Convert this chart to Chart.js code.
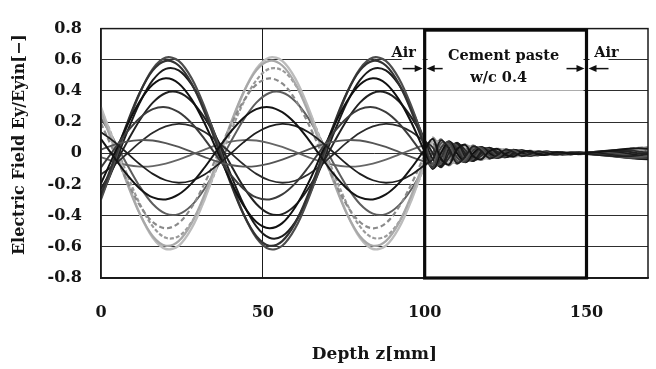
<!DOCTYPE html>
<html>
<head>
<meta charset="utf-8">
<script src="https://cdn.jsdelivr.net/npm/chart.js@4.4.1/dist/chart.umd.min.js"></script>
<style>
  html, body { margin: 0; padding: 0; background: #fff; }
  canvas { display: block; }
</style>
</head>
<body>
<canvas id="chart" width="656" height="369"></canvas>
<script>
// depth z [mm]: air 0-100, cement paste 100-150, air again after 150
const depth = [0, 4, 8, 12, 16, 20, 24, 28, 32, 36, 40, 44, 48, 52, 56, 60, 64, 68, 72, 76, 80, 84, 88, 92, 96, 100,
  102.5, 105, 107.5, 110, 112.5, 115, 117.5, 120, 122.5, 125, 127.5, 130, 132.5, 135, 137.5, 140, 142.5, 145, 147.5, 150,
  154, 158, 162, 166, 170];

// Ey/Eyin snapshots (one array per time step)
const eyT0 = [.091, -.024, -.136, -.227, -.283, -.296, -.264, -.193, -.091, .024, .136, .227, .283, .296, .264, .193, .091, -.024, -.136, -.227, -.283, -.296, -.264, -.193, -.091, .024,
  .092, -.034, -.072, .026, .054, -.019, -.038, .013, .028, -.010, -.020, .007, .015, -.005, -.010, .003, .006, -.002, -.005, .002,
  .008, .018, .028, .032, .028];
const eyT1 = [.193, .009, -.176, -.334, -.441, -.481, -.448, -.346, -.193, -.009, .176, .334, .441, .481, .448, .346, .193, .009, -.176, -.334, -.441, -.481, -.448, -.346, -.193, -.009,
  .100, 0, -.078, 0, .058, 0, -.041, 0, .030, 0, -.022, 0, .016, 0, -.011, 0, .007, 0, -.005, 0,
  .005, .014, .026, .035, .037];
const eyT2 = [.264, .041, -.189, -.390, -.532, -.593, -.563, -.448, -.264, -.041, .189, .390, .532, .593, .563, .448, .264, .041, -.189, -.390, -.532, -.593, -.563, -.448, -.264, -.041,
  .092, .034, -.072, -.026, .054, .019, -.038, -.013, .028, .010, -.020, -.007, .015, .005, -.010, -.003, .006, .002, -.005, -.002,
  0, .008, .020, .032, .040];
const eyT3 = [.296, .066, -.173, -.387, -.542, -.614, -.593, -.481, -.296, -.066, .173, .387, .542, .614, .593, .481, .296, .066, -.173, -.387, -.542, -.614, -.593, -.481, -.296, -.066,
  .071, .064, -.055, -.048, .041, .035, -.029, -.025, .021, .018, -.016, -.013, .011, .009, -.008, -.006, .005, .004, -.004, -.003,
  -.005, 0, .011, .025, .037];
const eyT4 = [.283, .082, -.132, -.325, -.469, -.542, -.532, -.441, -.283, -.082, .132, .325, .469, .542, .532, .441, .283, .082, -.132, -.325, -.469, -.542, -.532, -.441, -.283, -.082,
  .038, .083, -.030, -.063, .022, .046, -.016, -.032, .011, .024, -.008, -.018, .006, .012, -.004, -.008, .003, .006, -.002, -.004,
  -.008, -.008, 0, .013, .028];
const eyT5 = [.227, .085, -.070, -.214, -.325, -.387, -.390, -.334, -.227, -.085, .070, .214, .325, .387, .390, .334, .227, .085, -.070, -.214, -.325, -.387, -.390, -.334, -.227, -.085,
  0, .090, 0, -.068, 0, .050, 0, -.035, 0, .026, 0, -.019, 0, .013, 0, -.009, 0, .006, 0, -.004,
  -.011, -.014, -.011, 0, .015];
const eyT6 = [.136, .075, .003, -.070, -.132, -.173, -.189, -.176, -.136, -.075, -.003, .070, .132, .173, .189, .176, .136, .075, .003, -.070, -.132, -.173, -.189, -.176, -.136, -.075,
  -.038, .083, .030, -.063, -.022, .046, .016, -.032, -.011, .024, .008, -.018, -.006, .012, .004, -.008, -.003, .006, .002, -.004,
  -.012, -.018, -.020, -.013, 0];
const eyT7 = [.024, .054, .075, .085, .082, .066, .041, .009, -.024, -.054, -.075, -.085, -.082, -.066, -.041, -.009, .024, .054, .075, .085, .082, .066, .041, .009, -.024, -.054,
  -.071, .064, .055, -.048, -.041, .035, .029, -.025, -.021, .018, .016, -.013, -.011, .009, .008, -.006, -.005, .004, .004, -.003,
  -.011, -.020, -.026, -.025, -.015];
const eyT8 = [-.091, .024, .136, .227, .283, .296, .264, .193, .091, -.024, -.136, -.227, -.283, -.296, -.264, -.193, -.091, .024, .136, .227, .283, .296, .264, .193, .091, -.024,
  -.092, .034, .072, -.026, -.054, .019, .038, -.013, -.028, .010, .020, -.007, -.015, .005, .010, -.003, -.006, .002, .005, -.002,
  -.008, -.018, -.028, -.032, -.028];
const eyT9 = [-.193, -.009, .176, .334, .441, .481, .448, .346, .193, .009, -.176, -.334, -.441, -.481, -.448, -.346, -.193, -.009, .176, .334, .441, .481, .448, .346, .193, .009,
  -.100, 0, .078, 0, -.058, 0, .041, 0, -.030, 0, .022, 0, -.016, 0, .011, 0, -.007, 0, .005, 0,
  -.005, -.014, -.026, -.035, -.037];
const eyT10 = [-.264, -.041, .189, .390, .532, .593, .563, .448, .264, .041, -.189, -.390, -.532, -.593, -.563, -.448, -.264, -.041, .189, .390, .532, .593, .563, .448, .264, .041,
  -.092, -.034, .072, .026, -.054, -.019, .038, .013, -.028, -.010, .020, .007, -.015, -.005, .010, .003, -.006, -.002, .005, .002,
  0, -.008, -.020, -.032, -.040];
const eyT11 = [-.296, -.066, .173, .387, .542, .614, .593, .481, .296, .066, -.173, -.387, -.542, -.614, -.593, -.481, -.296, -.066, .173, .387, .542, .614, .593, .481, .296, .066,
  -.071, -.064, .055, .048, -.041, -.035, .029, .025, -.021, -.018, .016, .013, -.011, -.009, .008, .006, -.005, -.004, .004, .003,
  .005, 0, -.011, -.025, -.037];
const eyT12 = [-.283, -.082, .132, .325, .469, .542, .532, .441, .283, .082, -.132, -.325, -.469, -.542, -.532, -.441, -.283, -.082, .132, .325, .469, .542, .532, .441, .283, .082,
  -.038, -.083, .030, .063, -.022, -.046, .016, .032, -.011, -.024, .008, .018, -.006, -.012, .004, .008, -.003, -.006, .002, .004,
  .008, .008, 0, -.013, -.028];
const eyT13 = [-.227, -.085, .070, .214, .325, .387, .390, .334, .227, .085, -.070, -.214, -.325, -.387, -.390, -.334, -.227, -.085, .070, .214, .325, .387, .390, .334, .227, .085,
  0, -.090, 0, .068, 0, -.050, 0, .035, 0, -.026, 0, .019, 0, -.013, 0, .009, 0, -.006, 0, .004,
  .011, .014, .011, 0, -.015];
const eyT14 = [-.136, -.075, -.003, .070, .132, .173, .189, .176, .136, .075, .003, -.070, -.132, -.173, -.189, -.176, -.136, -.075, -.003, .070, .132, .173, .189, .176, .136, .075,
  .038, -.083, -.030, .063, .022, -.046, -.016, .032, .011, -.024, -.008, .018, .006, -.012, -.004, .008, .003, -.006, -.002, .004,
  .012, .018, .020, .013, 0];
const eyT15 = [-.024, -.054, -.075, -.085, -.082, -.066, -.041, -.009, .024, .054, .075, .085, .082, .066, .041, .009, -.024, -.054, -.075, -.085, -.082, -.066, -.041, -.009, .024, .054,
  .071, -.064, -.055, .048, .041, -.035, -.029, .025, .021, -.018, -.016, .013, .011, -.009, -.008, .006, .005, -.004, -.004, .003,
  .011, .020, .026, .025, .015];

const snapshots = [eyT0, eyT1, eyT2, eyT3, eyT4, eyT5, eyT6, eyT7, eyT8, eyT9, eyT10, eyT11, eyT12, eyT13, eyT14, eyT15];

const xTickValues = [0, 50, 100, 150];
const yTickValues = [-0.8, -0.6, -0.4, -0.2, 0, 0.2, 0.4, 0.6, 0.8];
const cementFrom = 100;
const cementTo = 150;
const regionLabels = ['Air', 'Cement paste', 'w/c 0.4', 'Air'];
const yTitle = 'Electric Field Ey/Eyin[\u2212]';

// styles (grey scan look: dark lines up at 22 mm, pale ones down)
const lineColors = ['#141414', '#8a8a8a', '#a8a8a8', '#bcbcbc', '#9a9a9a', '#5e5e5e', '#1f1f1f', '#555555',
  '#3c3c3c', '#111111', '#333333', '#4d4d4d', '#1c1c1c', '#222222', '#2b2b2b', '#666666'];
const lineWidths = [2, 2.2, 2.2, 2.4, 2.2, 2, 1.8, 1.8, 2, 2, 2.2, 2.2, 2, 2, 1.8, 1.8];
const lineDash = [[], [5, 3], [], [], [4, 2], [], [], [], [], [], [], [], [], [], [], []];
const lineOrder = [1, 2, 2, 2, 2, 2, 1, 1, 1, 1, 1, 1, 1, 1, 1, 2];

const FONT = 'DejaVu Serif';
Chart.defaults.font.family = FONT;
Chart.defaults.color = '#151515';

function drawArrow(ctx, fromX, toX, y) {
  const dir = toX > fromX ? 1 : -1;
  ctx.beginPath();
  ctx.moveTo(fromX, y);
  ctx.lineTo(toX - dir * 5, y);
  ctx.stroke();
  ctx.beginPath();
  ctx.moveTo(toX, y);
  ctx.lineTo(toX - dir * 8, y - 3.5);
  ctx.lineTo(toX - dir * 8, y + 3.5);
  ctx.closePath();
  ctx.fill();
}

const paperPlugin = {
  id: 'paper',
  beforeDraw(chart) {
    const ctx = chart.ctx;
    ctx.save();
    ctx.fillStyle = '#fff';
    ctx.fillRect(0, 0, chart.width, chart.height);
    ctx.restore();
  },
  afterDatasetsDraw(chart) {
    const { ctx, chartArea: a, scales: { x } } = chart;
    const x1 = x.getPixelForValue(cementFrom);
    const x2 = x.getPixelForValue(cementTo);
    ctx.save();

    // plot frame
    ctx.strokeStyle = '#1a1a1a';
    ctx.lineWidth = 1.5;
    ctx.strokeRect(a.left, a.top, a.right - a.left, a.bottom - a.top);

    // label boxes hide the 0.6 grid line
    ctx.fillStyle = '#fff';
    ctx.fillRect(x1 - 23, a.top + 15, 21, 30);
    ctx.fillRect(x1 + 3, a.top + 14, x2 - x1 - 6, 48);
    ctx.fillRect(x2 + 3, a.top + 15, 19, 30);

    // cement paste specimen
    ctx.strokeStyle = '#0a0a0a';
    ctx.lineWidth = 3.2;
    ctx.strokeRect(x1, a.top + 1.5, x2 - x1, a.bottom - a.top - 1.5);

    // arrows
    ctx.strokeStyle = '#111';
    ctx.fillStyle = '#111';
    ctx.lineWidth = 1.5;
    const ay = a.top + 40;
    drawArrow(ctx, x1 - 22, x1 - 2, ay);
    drawArrow(ctx, x1 + 18, x1 + 2, ay);
    drawArrow(ctx, x2 - 20, x2 - 2, ay);
    drawArrow(ctx, x2 + 22, x2 + 2, ay);

    // texts
    ctx.fillStyle = '#111';
    ctx.textAlign = 'center';
    ctx.textBaseline = 'middle';
    ctx.font = 'bold 14.5px "' + FONT + '"';
    ctx.fillText(regionLabels[0], x1 - 21, a.top + 25);
    ctx.fillText(regionLabels[1], (x1 + x2) / 2 - 2, a.top + 28);
    ctx.fillText(regionLabels[2], (x1 + x2) / 2 - 7, a.top + 50);
    ctx.fillText(regionLabels[3], x2 + 20, a.top + 25);

    // y axis title, a bit above the axis centre as in the figure
    ctx.font = 'bold 16px "' + FONT + '"';
    ctx.fillStyle = '#151515';
    ctx.translate(20, a.top + 116);
    ctx.rotate(-Math.PI / 2);
    ctx.fillText(yTitle, 0, 0);
    ctx.restore();
  }
};

new Chart(document.getElementById('chart'), {
  type: 'line',
  data: {
    datasets: snapshots.map((vals, k) => ({
      data: depth.map((z, i) => ({ x: z, y: vals[i] })),
      borderColor: lineColors[k],
      borderWidth: lineWidths[k],
      borderDash: lineDash[k],
      pointRadius: 0,
      tension: 0.35,
      fill: false,
      order: lineOrder[k]
    }))
  },
  options: {
    responsive: false,
    animation: false,
    devicePixelRatio: 1,
    layout: { padding: { left: 4, right: 8, top: 13, bottom: 0 } },
    plugins: { legend: { display: false }, tooltip: { enabled: false } },
    scales: {
      x: {
        type: 'linear',
        min: 0,
        max: 169,
        afterBuildTicks: s => { s.ticks = xTickValues.map(v => ({ value: v })); },
        afterFit: s => { s.height = 91; },
        ticks: { font: { size: 16, weight: 'bold' }, padding: 25, maxRotation: 0 },
        grid: {
          drawTicks: false,
          lineWidth: 1,
          color: c => (c.tick && (c.tick.value === 50 || c.tick.value === 150)) ? '#1a1a1a' : 'rgba(0,0,0,0)'
        },
        border: { display: true, color: '#1a1a1a', width: 1.5 },
        title: {
          display: true,
          text: 'Depth z[mm]',
          font: { size: 17, weight: 'bold' },
          padding: { top: 0, bottom: 4 }
        }
      },
      y: {
        min: -0.8,
        max: 0.8,
        afterBuildTicks: s => { s.ticks = yTickValues.map(v => ({ value: v })); },
        afterFit: s => { s.width = 97; },
        ticks: {
          font: { size: 16, weight: 'bold' },
          padding: 19,
          callback: v => String(Math.round(v * 10) / 10)
        },
        grid: { drawTicks: false, color: '#2e2e2e', lineWidth: 1 },
        border: { display: true, color: '#1a1a1a', width: 1.5 }
      }
    }
  },
  plugins: [paperPlugin]
});
</script>
</body>
</html>
